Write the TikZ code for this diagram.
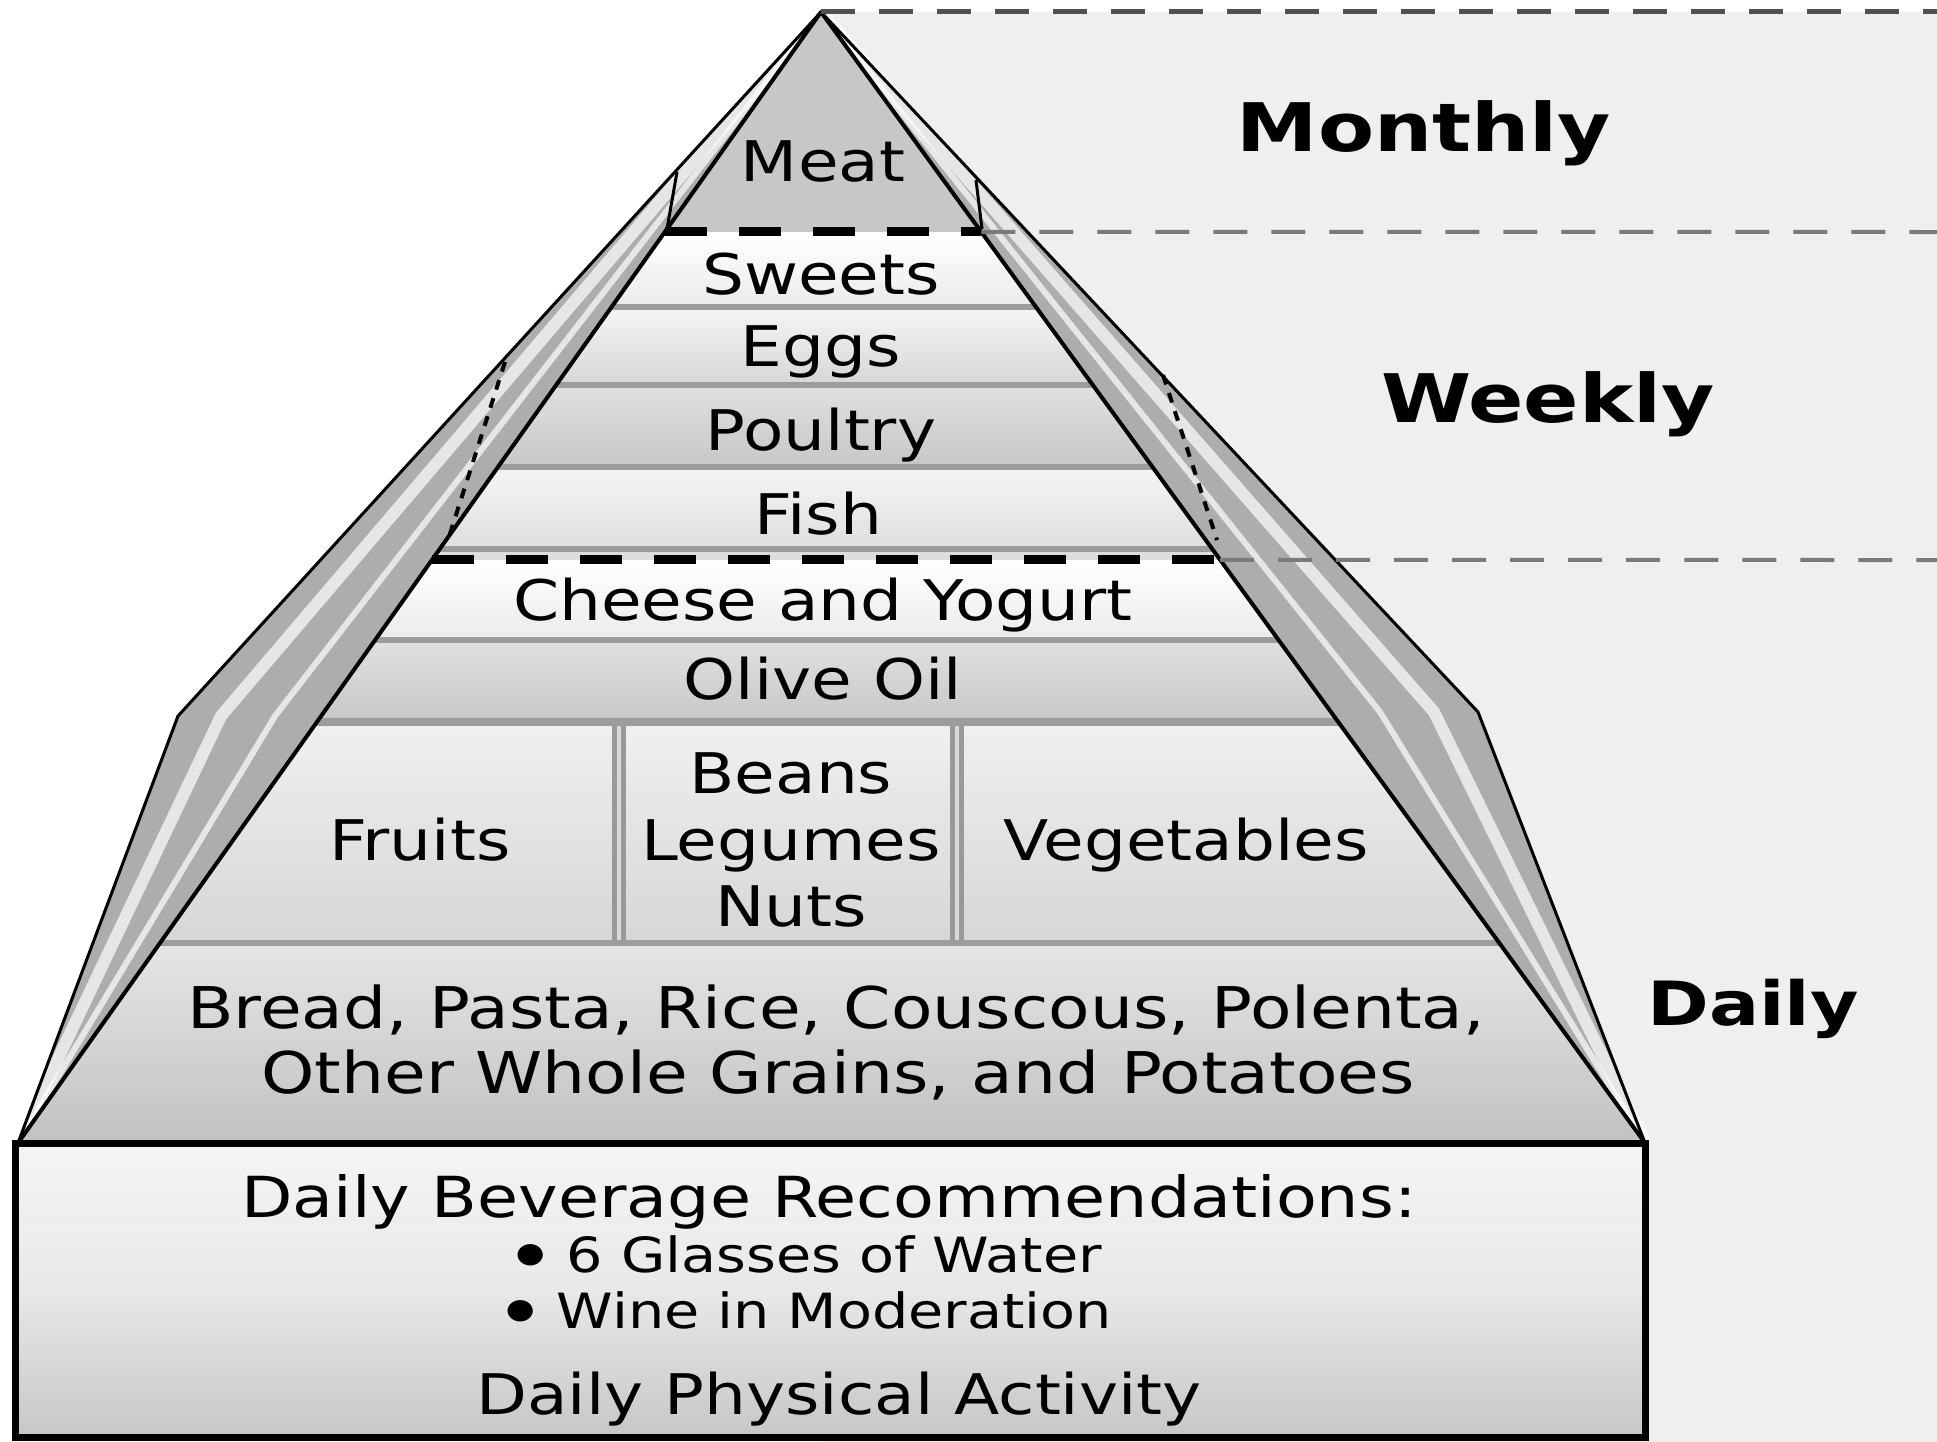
\documentclass[tikz,border=0pt]{standalone}
\usepackage{fontspec}
\setmainfont{DejaVu Sans}[FakeStretch=1.18]
\newfontfamily\labfont{DejaVu Sans Bold}[FakeStretch=1.22]
\usetikzlibrary{calc}
\definecolor{panel}{HTML}{EFEFEF}
\definecolor{facetgray}{HTML}{ADADAD}
\definecolor{sepgray}{HTML}{9C9C9C}
\definecolor{dashgray}{HTML}{7A7A7A}
\definecolor{topdash}{HTML}{505050}
\newcommand{\bigdot}{\raisebox{10pt}{\fontsize{28}{28}\selectfont ●}\hspace{22pt}}
\begin{document}
\begin{tikzpicture}[x=1pt,y=-1pt,
  txt/.style={anchor=base,inner sep=0pt,font=\fontsize{56}{60}\selectfont},
  widetxt/.style={anchor=base,inner sep=0pt,font=\fontsize{57.5}{60}\selectfont},
  smalltxt/.style={anchor=base,inner sep=0pt,font=\fontsize{48.5}{52}\selectfont},
  freq/.style={anchor=base,inner sep=0pt,font=\labfont\fontsize{67}{72}\selectfont},
  facetedge/.style={draw=black,line width=3pt,line join=round},
  stripe/.style={draw=white,opacity=0.7,line join=round},
  sepline/.style={draw=sepgray,line width=6pt},
  bigdash/.style={draw=black,line width=9pt,dash pattern=on 42pt off 32pt},
  thindash/.style={draw=dashgray,line width=4pt,dash pattern=on 34pt off 24pt},
  facetdots/.style={draw=black,line width=4pt,dash pattern=on 10pt off 9pt},
  divider/.style={draw=black!40,line width=14pt},
]
\useasboundingbox (0,0) rectangle (1937,1442);
\coordinate (apex) at (821,12);
\coordinate (bl) at (18,1143);
\coordinate (br) at (1645,1143);
\coordinate (lbend) at (178,716);
\coordinate (rbend) at (1478,712);

% right background panel
\fill[panel] (821,12) rectangle (1937,1442);

% side facets
\fill[facetgray] (apex) -- (lbend) -- (bl) -- cycle;
\fill[facetgray] (apex) -- (rbend) -- (br) -- cycle;
\coordinate (ls1) at (221,716);
\coordinate (ls2) at (275,716);
\coordinate (rs1) at (1434,712);
\coordinate (rs2) at (1380,712);
\draw[stripe,line width=12pt] (apex) -- (ls1) -- (bl);
\draw[stripe,line width=6pt] (apex) -- (ls2) -- (bl);
\draw[stripe,line width=12pt] (apex) -- (rs1) -- (br);
\draw[stripe,line width=6pt] (apex) -- (rs2) -- (br);
\draw[facetedge] (apex) -- (lbend) -- (bl);
\draw[facetedge] (apex) -- (rbend) -- (br);
\draw[facetdots] (505,362) -- (448,540);
\draw[facetdots] (1163,375) -- (1217,540);
\draw[black,line width=3pt] (677,172) -- (667,229);
\draw[black,line width=3pt] (976,180) -- (982,229);

% front face bands
\begin{scope}
\clip (apex) -- (bl) -- (br) -- cycle;
\fill[black!22] (0,0) rectangle (1937,232);
\shade[top color=white,bottom color=black!8] (0,232) rectangle (1937,307);
\shade[top color=black!4,bottom color=black!16] (0,307) rectangle (1937,385);
\shade[top color=black!12,bottom color=black!22] (0,385) rectangle (1937,467);
\shade[top color=black!4,bottom color=black!14] (0,467) rectangle (1937,560);
\shade[top color=white,bottom color=black!8] (0,560) rectangle (1937,640);
\shade[top color=black!12,bottom color=black!22] (0,640) rectangle (1937,722);
\shade[top color=black!6,bottom color=black!16] (0,722) rectangle (1937,943);
\shade[top color=black!10,bottom color=black!24] (0,943) rectangle (1937,1143);
\draw[sepline] (0,307) -- (1937,307);
\draw[sepline] (0,385) -- (1937,385);
\draw[sepline] (0,467) -- (1937,467);
\draw[sepline] (0,549) -- (1937,549);
\draw[sepline] (0,640) -- (1937,640);
\draw[sepline,line width=8pt] (0,722) -- (1937,722);
\draw[sepline] (0,943) -- (1937,943);
\end{scope}

% dividers in the fruit row
\coordinate (d1t) at (619,726);
\coordinate (d1b) at (619,940);
\coordinate (d2t) at (957,726);
\coordinate (d2b) at (957,940);
\draw[divider] (d1t) -- (d1b);
\draw[divider] (d2t) -- (d2b);
\draw[black!15,line width=4pt] (d1t) -- (d1b);
\draw[black!15,line width=4pt] (d2t) -- (d2b);

% front outline
\draw[black,line width=4pt,line join=round] (bl) -- (apex) -- (br);

% dashed level lines
\coordinate (m1l) at ($(apex)!0.1945!(bl)$);
\coordinate (m1r) at ($(apex)!0.1945!(br)$);
\coordinate (m1e) at (1937,232);
\coordinate (w1l) at ($(apex)!0.4845!(bl)$);
\coordinate (w1r) at ($(apex)!0.4845!(br)$);
\coordinate (w1e) at (1937,560);
\coordinate (topend) at (1937,12);
\draw[bigdash] (m1l) -- (m1r);
\draw[bigdash] (w1l) -- (w1r);
\draw[thindash] (m1r) -- (m1e);
\draw[thindash] (w1r) -- (w1e);
\draw[draw=topdash,line width=5pt,dash pattern=on 34pt off 24pt] (apex) -- (topend);

% bottom box
\shade[top color=black!4,bottom color=black!22,middle color=black!9] (15,1143) rectangle (1645,1437);
\draw[black,line width=7pt] (15,1143) rectangle (1645,1437);

% texts
\node[txt] (meat) at (823,182) {Meat};
\node[txt] (sweets) at (821,294) {Sweets};
\node[txt] (eggs) at (821,366) {Eggs};
\node[txt] (poultry) at (821,450) {Poultry};
\node[txt] (fish) at (818,534) {Fish};
\node[txt] (cheese) at (823,620) {Cheese and Yogurt};
\node[txt] (olive) at (823,699) {Olive Oil};
\node[txt] (fruits) at (420,860) {Fruits};
\node[txt] (beans) at (791,793) {Beans};
\node[txt] (legumes) at (791,860) {Legumes};
\node[txt] (nuts) at (791,926) {Nuts};
\node[txt] (veg) at (1186,860) {Vegetables};
\node[widetxt] (bread1) at (836,1028) {Bread, Pasta, Rice, Couscous, Polenta,};
\node[widetxt] (bread2) at (838,1093) {Other Whole Grains, and Potatoes};
\node[txt,font=\fontsize{56.6}{60}\selectfont] (bev) at (829,1217) {Daily Beverage Recommendations:};
\node[smalltxt] (water) at (809,1272) {\bigdot 6 Glasses of Water};
\node[smalltxt] (wine) at (809,1328) {\bigdot Wine in Moderation};
\node[txt] (phys) at (839,1414) {Daily Physical Activity};
\node[freq] (monthly) at (1424,152) {Monthly};
\node[freq] (weekly) at (1548,422) {Weekly};
\node[freq,font=\labfont\fontsize{61}{66}\selectfont] (daily) at (1753,1025) {Daily};
\end{tikzpicture}
\end{document}
